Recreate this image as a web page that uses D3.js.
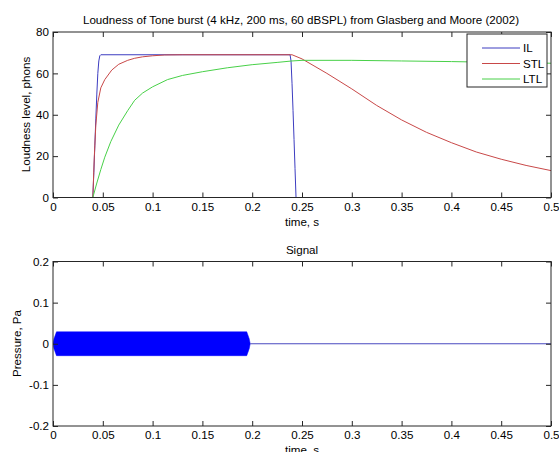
<!DOCTYPE html>
<html>
<head>
<meta charset="utf-8">
<script src="https://cdn.jsdelivr.net/npm/d3@7"></script>
<style>
  body { margin: 0; background: #fff; }
  text { font-family: "Liberation Sans", Arial, sans-serif; font-size: 11.6px; fill: #000; }
</style>
</head>
<body>
<svg id="chart" width="559" height="452"></svg>
<script>
// ---- data ----
var il_time = [0.040, 0.041, 0.042, 0.043, 0.044, 0.045, 0.046, 0.047, 0.048, 0.238, 0.239, 0.240, 0.241, 0.242, 0.243, 0.244];
var il_level = [0, 12, 25, 38, 50, 60, 66, 68.5, 69, 69, 66, 55, 42, 28, 14, 0];

var stl_time = [0.040, 0.0415, 0.043, 0.045, 0.048, 0.052, 0.059, 0.066, 0.075, 0.082, 0.090, 0.100, 0.112, 0.130, 0.240,
                0.250, 0.275, 0.300, 0.325, 0.350, 0.375, 0.400, 0.425, 0.450, 0.475, 0.500];
var stl_level = [0, 20, 35, 46, 53, 57, 61.6, 64.4, 66.3, 67.3, 68, 68.5, 68.9, 69, 69,
                 67, 60, 52.5, 44.5, 37.5, 31.5, 26.5, 22, 18.5, 15.5, 13];

var ltl_time = [0.040, 0.044, 0.048, 0.052, 0.058, 0.066, 0.075, 0.082, 0.090, 0.100, 0.115, 0.130, 0.150, 0.175, 0.200,
                0.225, 0.240, 0.250, 0.300, 0.350, 0.400, 0.450, 0.500];
var ltl_level = [0, 7, 13.5, 19.5, 27, 35, 42, 47, 50.5, 53.5, 57, 59, 60.8, 62.7, 64.2,
                 65.3, 66, 66.3, 66.3, 66.0, 65.7, 65.3, 64.9];

// envelope of the 4 kHz tone burst (Pa)
var sig_time = [0, 0.001, 0.0035, 0.1945, 0.197, 0.198, 0.5];
var sig_env = [0, 0.012, 0.029, 0.029, 0.012, 0, 0];

var series_names = ["IL", "STL", "LTL"];
var series_colors = ["#3c3cc0", "#c84848", "#48d048"];

var top_x_ticks = [0, 0.05, 0.1, 0.15, 0.2, 0.25, 0.3, 0.35, 0.4, 0.45, 0.5];
var top_y_ticks = [0, 20, 40, 60, 80];
var bot_y_ticks = [-0.2, -0.1, 0, 0.1, 0.2];

var svg = d3.select("#chart");

var plot_left = 53, plot_right = 551;

// plain hyphen minus like the original labels
var num_fmt = d => String(d);

// draws the box, inward ticks and tick labels of one axes
function draw_axes(g, x, y, x_ticks, y_ticks) {
    var x0 = x.range()[0], x1 = x.range()[1];
    var y0 = y.range()[0], y1 = y.range()[1];
    var tick_len = 5;

    g.append("g").attr("transform", "translate(0," + y0 + ")")
        .call(d3.axisBottom(x).tickValues(x_ticks).tickSize(-tick_len).tickPadding(5).tickFormat(num_fmt))
        .call(a => a.select(".domain").remove());
    g.append("g").attr("transform", "translate(0," + y1 + ")")
        .call(d3.axisTop(x).tickValues(x_ticks).tickSize(-tick_len).tickFormat(""))
        .call(a => a.select(".domain").remove());
    g.append("g").attr("transform", "translate(" + x0 + ",0)")
        .call(d3.axisLeft(y).tickValues(y_ticks).tickSize(-tick_len).tickPadding(4).tickFormat(num_fmt))
        .call(a => a.select(".domain").remove());
    g.append("g").attr("transform", "translate(" + x1 + ",0)")
        .call(d3.axisRight(y).tickValues(y_ticks).tickSize(-tick_len).tickFormat(""))
        .call(a => a.select(".domain").remove());

    g.selectAll(".tick line").attr("stroke", "#262626");
    g.selectAll(".tick text").style("font-size", "11.6px").attr("fill", "#000")
        .style("font-family", "'Liberation Sans', Arial, sans-serif");

    g.append("rect")
        .attr("x", x0).attr("y", y1)
        .attr("width", x1 - x0).attr("height", y0 - y1)
        .attr("fill", "none").attr("stroke", "#262626").attr("stroke-width", 1);
}

// ---------------- top axes: loudness ----------------
var x_top = d3.scaleLinear().domain([0, 0.5]).range([plot_left, plot_right]);
var y_top = d3.scaleLinear().domain([0, 80]).range([197.5, 32]);

var defs = svg.append("defs");
defs.append("clipPath").attr("id", "clip_top").append("rect")
    .attr("x", plot_left).attr("y", 32).attr("width", plot_right - plot_left).attr("height", 165.5);
defs.append("clipPath").attr("id", "clip_bot").append("rect")
    .attr("x", plot_left).attr("y", 261.5).attr("width", plot_right - plot_left).attr("height", 164.5);

var top_g = svg.append("g");
var lines_g = top_g.append("g").attr("clip-path", "url(#clip_top)");

var series_data = [
    d3.zip(il_time, il_level),
    d3.zip(stl_time, stl_level),
    d3.zip(ltl_time, ltl_level)
];

var line_gen = d3.line().x(d => x_top(d[0])).y(d => y_top(d[1]));

series_data.forEach(function (pts, i) {
    lines_g.append("path")
        .attr("d", line_gen(pts))
        .attr("fill", "none")
        .attr("stroke", series_colors[i])
        .attr("stroke-width", 1);
});

draw_axes(top_g, x_top, y_top, top_x_ticks, top_y_ticks);

top_g.append("text")
    .attr("x", 301).attr("y", 24).attr("text-anchor", "middle")
    .text("Loudness of Tone burst (4 kHz, 200 ms, 60 dBSPL) from Glasberg and Moore (2002)");
top_g.append("text")
    .attr("x", 302).attr("y", 226).attr("text-anchor", "middle")
    .text("time, s");
top_g.append("text")
    .attr("transform", "translate(30,114.5) rotate(-90)").attr("text-anchor", "middle")
    .text("Loudness level, phons");

// legend
var legend = top_g.append("g");
legend.append("rect")
    .attr("x", 467).attr("y", 34).attr("width", 80).attr("height", 53)
    .attr("fill", "#fff").attr("stroke", "#262626").attr("stroke-width", 1);
series_names.forEach(function (name, i) {
    var ly = 48 + i * 15.5;
    legend.append("line")
        .attr("x1", 482).attr("x2", 520).attr("y1", ly).attr("y2", ly)
        .attr("stroke", series_colors[i]).attr("stroke-width", 1);
    legend.append("text")
        .attr("x", 523).attr("y", ly + 4)
        .text(name);
});

// ---------------- bottom axes: signal ----------------
var x_bot = d3.scaleLinear().domain([0, 0.5]).range([plot_left, plot_right]);
var y_bot = d3.scaleLinear().domain([-0.2, 0.2]).range([426, 261.5]);

var bot_g = svg.append("g");
var sig_g = bot_g.append("g").attr("clip-path", "url(#clip_bot)");

var sig_pts = d3.zip(sig_time, sig_env);

sig_g.append("path")
    .attr("d", d3.area()
        .x(d => x_bot(d[0]))
        .y0(d => y_bot(-d[1]))
        .y1(d => y_bot(d[1]))(sig_pts.filter(d => d[0] <= 0.198)))
    .attr("fill", "#0000ff")
    .attr("stroke", "#0000ff").attr("stroke-width", 0.5);

sig_g.append("path")
    .attr("d", d3.line().x(d => x_bot(d[0])).y(d => y_bot(d[1]))(sig_pts.filter(d => d[0] >= 0.198)))
    .attr("fill", "none")
    .attr("stroke", "#4a4ac0").attr("stroke-width", 1);

draw_axes(bot_g, x_bot, y_bot, top_x_ticks, bot_y_ticks);

bot_g.append("text")
    .attr("x", 302).attr("y", 254).attr("text-anchor", "middle")
    .text("Signal");
bot_g.append("text")
    .attr("x", 302).attr("y", 454).attr("text-anchor", "middle")
    .text("time, s");
bot_g.append("text")
    .attr("transform", "translate(21,343.5) rotate(-90)").attr("text-anchor", "middle")
    .text("Pressure, Pa");
</script>
</body>
</html>
